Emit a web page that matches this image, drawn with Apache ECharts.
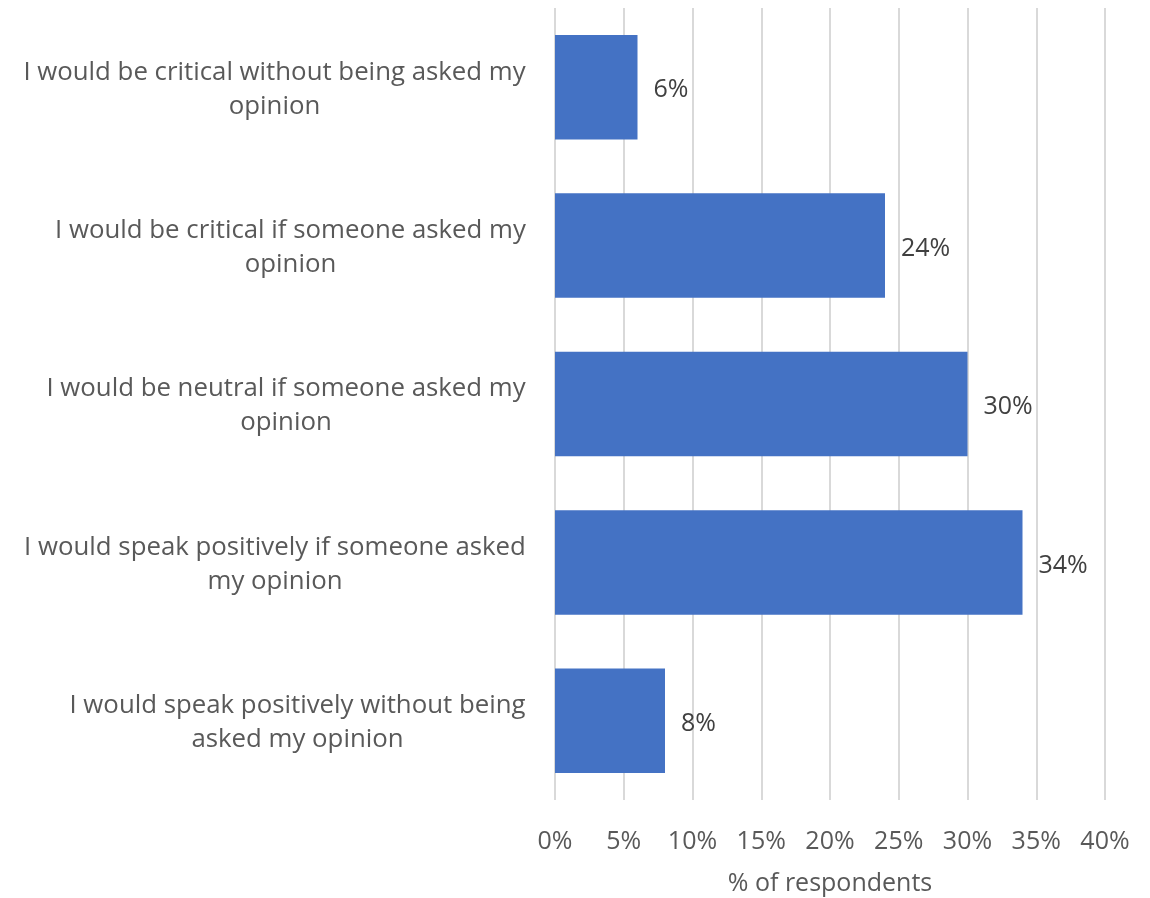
<!DOCTYPE html>
<html>
<head>
<meta charset="utf-8">
<script src="https://cdn.jsdelivr.net/npm/echarts@6/dist/echarts.min.js"></script>
<style>
  html, body { margin: 0; padding: 0; background: #ffffff; }
  #chart { width: 1150px; height: 898px; }
</style>
</head>
<body>
<div id="chart"></div>
<script>
// Survey answers, top to bottom (each split over two lines)
const categories = [
  'I would be critical without being asked my\nopinion',
  'I would be critical if someone asked my\nopinion',
  'I would be neutral if someone asked my\nopinion',
  'I would speak positively if someone asked\nmy opinion',
  'I would speak positively without being\nasked my opinion'
];
// Share of respondents, in percent
const values = [6, 24, 30, 34, 8];
// Percent axis ticks
const axisMin = 0;
const axisMax = 40;
const axisStep = 5;

const FONT = '"Open Sans", "Noto Sans", sans-serif';
const FONT_SIZE = 25;
const CAT_FONT_SIZE = 25.8;

// Measure each label's widest line so its lines can be centred within the block
const ctx = document.createElement('canvas').getContext('2d');
ctx.font = CAT_FONT_SIZE + 'px ' + FONT;
const rich = {};
categories.forEach((c, i) => {
  const w = Math.max(...c.split('\n').map(s => ctx.measureText(s).width));
  rich['c' + i] = {
    width: Math.ceil(w) + 2, align: 'center',
    fontFamily: FONT, fontSize: CAT_FONT_SIZE, color: '#595959', lineHeight: 34
  };
});

const chart = echarts.init(document.getElementById('chart'), null, { renderer: 'canvas' });

chart.setOption({
  backgroundColor: '#ffffff',
  animation: false,
  grid: {
    left: 555, right: 45, top: 8, bottom: 98,
    containLabel: false, outerBoundsMode: 'none'
  },
  xAxis: {
    type: 'value',
    min: axisMin,
    max: axisMax,
    interval: axisStep,
    name: '% of respondents',
    nameLocation: 'middle',
    nameGap: 71,
    nameTextStyle: { fontFamily: FONT, fontSize: FONT_SIZE, color: '#595959' },
    axisLine: { show: false },
    axisTick: { show: false },
    axisLabel: {
      formatter: '{value}%',
      fontFamily: FONT, fontSize: FONT_SIZE, color: '#595959', margin: 29
    },
    splitLine: { show: true, lineStyle: { color: '#d9d9d9', width: 2 } }
  },
  yAxis: {
    type: 'category',
    data: categories,
    inverse: true,
    axisLine: { show: false },
    axisTick: { show: false },
    axisLabel: {
      margin: 28,
      align: 'right',
      padding: [4, 0, 0, 0],
      formatter: (value, index) =>
        value.split('\n').map(s => '{c' + index + '|' + s + '}').join('\n'),
      rich: rich
    }
  },
  series: [{
    type: 'bar',
    data: values,
    barCategoryGap: '34%',
    itemStyle: { color: '#4472c4' },
    label: {
      show: true,
      position: 'right',
      distance: 16,
      offset: [0, 3],
      formatter: '{c}%',
      fontFamily: FONT, fontSize: FONT_SIZE, color: '#404040'
    }
  }]
});
</script>
</body>
</html>
